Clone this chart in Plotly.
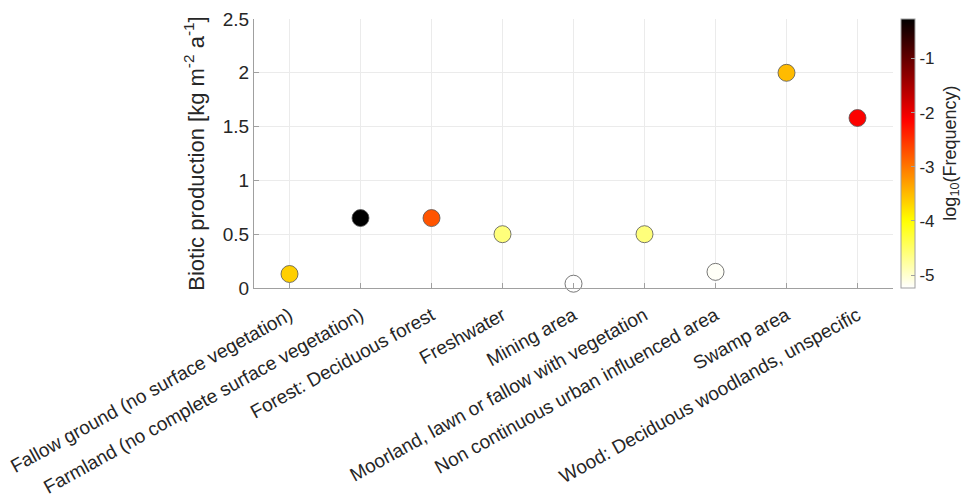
import plotly.graph_objects as go

# Land-use categories, biotic production and log10 frequency of occurrence
categories = [
    "Fallow ground (no surface vegetation)",
    "Farmland (no complete surface vegetation)",
    "Forest: Deciduous forest",
    "Freshwater",
    "Mining area",
    "Moorland, lawn or fallow with vegetation",
    "Non continuous urban influenced area",
    "Swamp area",
    "Wood: Deciduous woodlands, unspecific",
]
biotic_production = [0.13, 0.65, 0.65, 0.50, 0.04, 0.50, 0.15, 2.00, 1.58]
log_frequency = [-3.65, -0.27, -2.75, -4.6, -5.24, -4.6, -5.2, -3.5, -2.13]

y_ticks = [0, 0.5, 1, 1.5, 2, 2.5]
y_tick_labels = ["0", "0.5", "1", "1.5", "2", "2.5"]
cbar_ticks = [-5, -4, -3, -2, -1]


def hot_reversed(n=64):
    """MATLAB-style 'hot' colormap, flipped so low values are white."""
    stops = []
    for i in range(n):
        t = i / (n - 1)
        s = 1 - t
        r = min(1.0, s / 0.375)
        g = min(1.0, max(0.0, (s - 0.375) / 0.375))
        b = min(1.0, max(0.0, (s - 0.75) / 0.25))
        stops.append([t, f"rgb({round(r*255)},{round(g*255)},{round(b*255)})"])
    return stops


x_pos = list(range(1, len(categories) + 1))
font_family = "Liberation Sans, Arial, sans-serif"
text_color = "#262626"

fig = go.Figure()
fig.add_trace(go.Scatter(
    x=x_pos,
    y=biotic_production,
    mode="markers",
    cliponaxis=False,
    marker=dict(
        size=17,
        color=log_frequency,
        colorscale=hot_reversed(),
        cmin=min(log_frequency),
        cmax=max(log_frequency),
        line=dict(color="#555555", width=0.8),
        showscale=True,
        colorbar=dict(
            x=1.0125, xanchor="left", xpad=0,
            y=0.5, yanchor="middle", len=1.0, lenmode="fraction", ypad=0,
            thickness=14,
            outlinecolor="#a0a0a0", outlinewidth=1,
            tickvals=cbar_ticks,
            ticktext=[str(v) for v in cbar_ticks],
            ticks="inside", ticklen=4, tickcolor="#a0a0a0",
            tickfont=dict(family=font_family, size=17, color=text_color),
        ),
    ),
    showlegend=False,
    hoverinfo="skip",
))

fig.add_annotation(
    text="log<sub>10</sub>(Frequency)",
    xref="paper", yref="paper",
    x=1.091, y=0.5, xanchor="center", yanchor="middle",
    textangle=-90, showarrow=False,
    font=dict(family=font_family, size=18, color=text_color),
)

fig.update_layout(
    width=977, height=495,
    margin=dict(l=254, r=84, t=19, b=207),
    paper_bgcolor="white",
    plot_bgcolor="white",
    font=dict(family=font_family, color=text_color),
    xaxis=dict(
        range=[0.5, 9.5],
        tickmode="array",
        tickvals=x_pos,
        ticktext=categories,
        tickangle=-29,
        tickfont=dict(size=19, color=text_color),
        ticklabelstandoff=8,
        ticks="inside", ticklen=5, tickcolor="#a0a0a0",
        showgrid=True, gridcolor="#ebebeb", gridwidth=1,
        showline=True, linecolor="#a0a0a0", linewidth=1,
        zeroline=False, automargin=False,
    ),
    yaxis=dict(
        range=[0, 2.5],
        tickmode="array",
        tickvals=y_ticks,
        ticktext=y_tick_labels,
        tickfont=dict(size=19, color=text_color),
        ticks="inside", ticklen=5, tickcolor="#a0a0a0",
        showgrid=True, gridcolor="#ebebeb", gridwidth=1,
        showline=True, linecolor="#a0a0a0", linewidth=1,
        zeroline=False, automargin=False,
        title=dict(
            text="Biotic production [kg m<sup>-2</sup> a<sup>-1</sup>]",
            font=dict(size=22, color=text_color),
            standoff=12,
        ),
    ),
)

fig.write_html("out.html")
